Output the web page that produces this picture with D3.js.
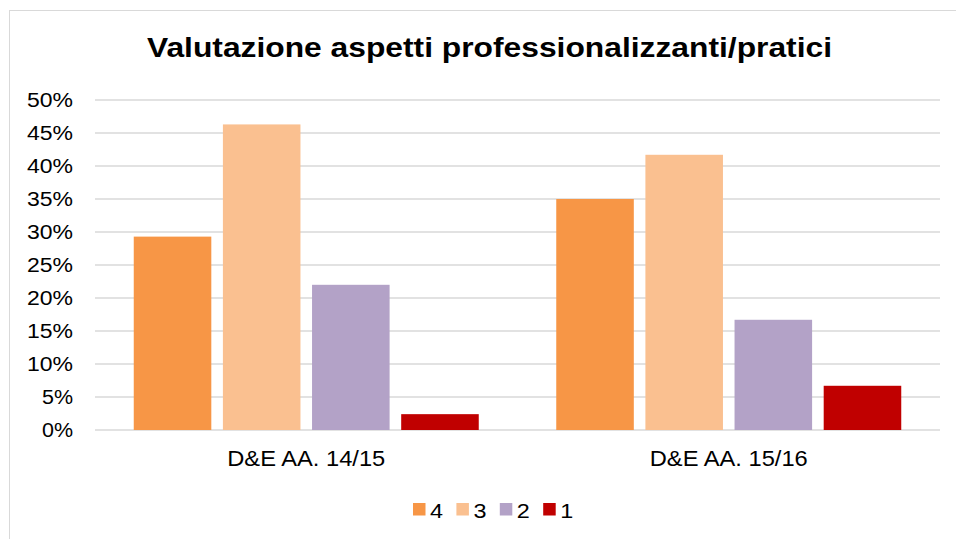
<!DOCTYPE html>
<html>
<head>
<meta charset="utf-8">
<script src="https://cdn.jsdelivr.net/npm/d3@7"></script>
<style>
  body { margin: 0; background: #fff; }
  svg { display: block; font-family: "Liberation Sans", Arial, sans-serif; }
</style>
</head>
<body>
<svg id="chart" width="956" height="539"></svg>
<script>
// chart data
const categories = ["D&E AA. 14/15", "D&E AA. 15/16"];
const seriesNames = ["4", "3", "2", "1"];
const seriesColors = ["#F79646", "#FAC090", "#B3A2C7", "#C00000"];
const values = {
  "4": [29.3, 35.0],
  "3": [46.3, 41.7],
  "2": [22.0, 16.7],
  "1": [2.4, 6.7]
};
const yTicks = [0, 5, 10, 15, 20, 25, 30, 35, 40, 45, 50];

const svg = d3.select("#chart");
const plot = { left: 95, right: 940, top: 100, bottom: 430 };

// outer frame (only top/left edges visible in the window)
svg.append("rect")
  .attr("x", 9.5).attr("y", 10.5)
  .attr("width", 960).attr("height", 540)
  .attr("fill", "#fff").attr("stroke", "#d9d9d9").attr("stroke-width", 1);

const x0 = d3.scaleBand().domain(categories).range([plot.left, plot.right]);
const groupPad = 38.75;
const x1 = d3.scaleBand().domain(seriesNames)
  .range([groupPad, x0.bandwidth() - groupPad])
  .paddingInner(0.13);
const y = d3.scaleLinear().domain([0, 50]).range([plot.bottom, plot.top]);

// gridlines
svg.append("g").selectAll("line").data(yTicks).join("line")
  .attr("x1", plot.left).attr("x2", plot.right)
  .attr("y1", d => y(d)).attr("y2", d => y(d))
  .attr("stroke", "#d9d9d9").attr("stroke-width", 1.3);

// y axis labels (the original font runs a bit wide, hence textLength)
svg.append("g").selectAll("text").data(yTicks).join("text")
  .attr("x", 73).attr("y", d => y(d) + 7)
  .attr("text-anchor", "end")
  .attr("font-size", 20).attr("fill", "#000")
  .attr("textLength", d => d < 10 ? 31 : 46)
  .attr("lengthAdjust", "spacingAndGlyphs")
  .text(d => d + "%");

// bars
const groups = svg.append("g").selectAll("g").data(categories).join("g")
  .attr("transform", d => `translate(${x0(d)},0)`);

groups.selectAll("rect")
  .data((c, i) => seriesNames.map((s, k) => ({ s, k, v: values[s][i] })))
  .join("rect")
  .attr("x", d => x1(d.s))
  .attr("y", d => y(d.v))
  .attr("width", x1.bandwidth())
  .attr("height", d => y(0) - y(d.v))
  .attr("fill", d => seriesColors[d.k]);

// category labels
svg.append("g").selectAll("text").data(categories).join("text")
  .attr("x", d => x0(d) + x0.bandwidth() / 2)
  .attr("y", 466)
  .attr("text-anchor", "middle")
  .attr("font-size", 21.5).attr("fill", "#000")
  .attr("textLength", 158)
  .attr("lengthAdjust", "spacingAndGlyphs")
  .text(d => d);

// title
svg.append("text")
  .attr("x", 489.5).attr("y", 56.5)
  .attr("text-anchor", "middle")
  .attr("font-size", 27).attr("font-weight", "bold").attr("fill", "#000")
  .attr("textLength", 685)
  .attr("lengthAdjust", "spacingAndGlyphs")
  .text("Valutazione aspetti professionalizzanti/pratici");

// legend
const legend = svg.append("g").selectAll("g").data(seriesNames).join("g")
  .attr("transform", (d, i) => `translate(${413 + i * 43.4},503)`);
legend.append("rect")
  .attr("width", 12.5).attr("height", 12.5)
  .attr("fill", (d, i) => seriesColors[i]);
legend.append("text")
  .attr("x", 17).attr("y", 15)
  .attr("font-size", 20).attr("fill", "#000")
  .attr("textLength", 13)
  .attr("lengthAdjust", "spacingAndGlyphs")
  .text(d => d);
</script>
</body>
</html>
